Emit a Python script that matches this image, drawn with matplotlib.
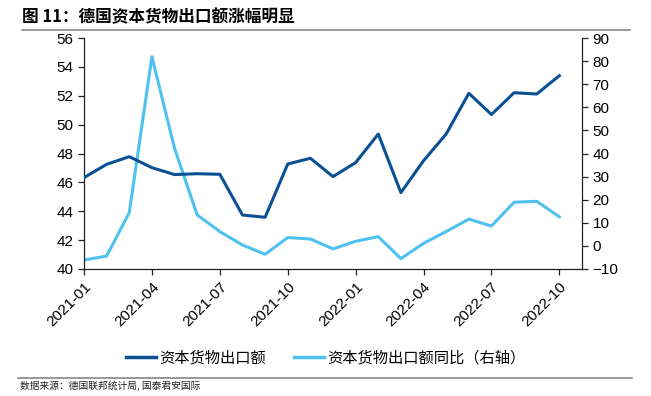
import matplotlib
matplotlib.use("Agg")
import matplotlib.pyplot as plt
from matplotlib.lines import Line2D

plt.rcParams['font.family'] = ['Noto Sans CJK SC', 'DejaVu Sans']

months = ['2021-01', '2021-02', '2021-03', '2021-04', '2021-05', '2021-06', '2021-07',
          '2021-08', '2021-09', '2021-10', '2021-11', '2021-12', '2022-01', '2022-02',
          '2022-03', '2022-04', '2022-05', '2022-06', '2022-07', '2022-08', '2022-09',
          '2022-10']
exports = [46.33, 47.25, 47.78, 47.02, 46.54, 46.6, 46.56, 43.74, 43.58, 47.27, 47.67,
           46.4, 47.37, 49.35, 45.29, 47.5, 49.35, 52.17, 50.7, 52.21, 52.12, 53.39]
yoy = [-6.1, -4.4, 14.4, 81.9, 42.2, 13.4, 6.2, 0.4, -3.65, 3.6, 3.0, -1.3, 2.0, 4.0,
       -5.5, 1.1, 6.2, 11.6, 8.6, 18.9, 19.3, 12.6]
tick_labels = months[::3]

dark = '#0b4f95'
light = '#4fc1f0'

fig = plt.figure(figsize=(6.51, 3.96), dpi=100)
ax = fig.add_axes([84/651, 1-269/396, (582-84)/651, (269-38)/396])
ax2 = ax.twinx()

x = list(range(len(months)))
ax.plot(x, exports, color=dark, lw=2.2, zorder=3)
ax2.plot(x, yoy, color=light, lw=2.2, zorder=2)
ax.set_zorder(ax2.get_zorder() + 1)
ax.patch.set_visible(False)

ax.set_xlim(0, 22)
ax.set_ylim(40, 56)
ax.set_yticks(range(40, 57, 2))
ax2.set_ylim(-10, 90)
ax2.set_yticks(range(-10, 91, 10))
ax.set_xticks(x[::3])
ax.set_xticklabels(tick_labels, rotation=45, ha='right', rotation_mode='anchor')

for a in (ax, ax2):
    a.spines['top'].set_visible(False)
    for s in a.spines.values():
        s.set_color('#222222')
        s.set_linewidth(0.9)
    a.tick_params(direction='out', length=4, width=0.9, colors='#222222', labelsize=11,
                  labelcolor='black')
    for lab in a.get_xticklabels() + a.get_yticklabels():
        lab.set_fontfamily('Liberation Sans')
ax.spines['right'].set_visible(False)
ax2.spines['left'].set_visible(False)
ax2.spines['bottom'].set_visible(False)

# Title
fig.text(22/651, 1-17/396, '图 11：德国资本货物出口额涨幅明显', fontsize=12,
         fontweight='bold', va='center', ha='left')
fig.add_artist(Line2D([22/651, 630/651], [1-30/396, 1-30/396], color='#888888', lw=1.2))

# Legend
handles = [Line2D([], [], color=dark, lw=2.5), Line2D([], [], color=light, lw=2.5)]
fig.legend(handles, ['资本货物出口额', '资本货物出口额同比（右轴）'], loc='center',
           bbox_to_anchor=(0.5, 1-358/396), ncol=2, frameon=False, fontsize=11,
           handlelength=2.0, handletextpad=0.2, columnspacing=1.8)

# Footer
fig.add_artist(Line2D([18/651, 632/651], [1-378/396, 1-378/396], color='#888888', lw=1.2))
fig.text(20/651, 1-386/396, '数据来源：德国联邦统计局, 国泰君安国际', fontsize=7,
         style='italic', va='center', ha='left', color='#222222')

fig.savefig('out.png', dpi=100)
